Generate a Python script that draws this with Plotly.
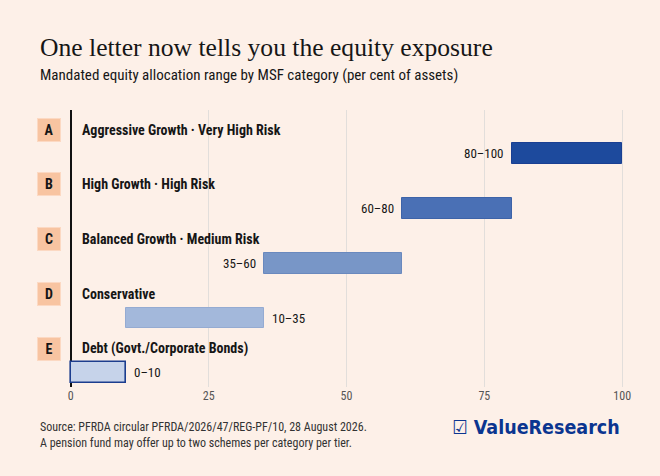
import plotly.graph_objects as go

# data
letters = ['A', 'B', 'C', 'D', 'E']
categories = ['Aggressive Growth · Very High Risk', 'High Growth · High Risk',
              'Balanced Growth · Medium Risk', 'Conservative', 'Debt (Govt./Corporate Bonds)']
equity_min = [80, 60, 35, 10, 0]
equity_max = [100, 80, 60, 35, 10]
tick_vals = [0, 25, 50, 75, 100]
tick_text = ['0', '25', '50', '75', '100']

bar_colors = ['#1D4A9D', '#4A70B5', '#7896C7', '#A3B8DB', '#C6D3EA']
line_colors = ['#1A3F92', '#3D63A8', '#6A89BE', '#95ABD2', '#1C3D8E']
line_widths = [1, 1, 1, 1, 1.6]

W, H = 660, 476
L, R, T, B = 68, 35, 110, 89
PW, PH = W - L - R, H - T - B

def px_x(px):
  return (px - L) / PW

def px_y(py):
  return (H - B - py) / PH

BG = '#FDF0E8'
SANS = 'Liberation Sans Narrow, Roboto Condensed, Roboto, sans-serif'
SERIF = 'Liberation Serif, DejaVu Serif, serif'
INK = '#161616'

rows = [len(letters) - 1 - i for i in range(len(letters))]

fig = go.Figure()
fig.add_trace(go.Bar(
  y=rows, x=[hi - lo for lo, hi in zip(equity_min, equity_max)], base=equity_min,
  orientation='h', width=0.38,
  marker=dict(color=bar_colors, line=dict(color=line_colors, width=line_widths)),
  hoverinfo='skip', showlegend=False))

annotations = []
for i, r in enumerate(rows):
  lo, hi = equity_min[i], equity_max[i]
  if lo >= 30:
    annotations.append(dict(x=lo, y=r, xref='x', yref='y', text=f'{lo}–{hi}', showarrow=False,
                            xanchor='right', xshift=-6, font=dict(family=SANS, size=13, color=INK)))
  else:
    annotations.append(dict(x=hi, y=r, xref='x', yref='y', text=f'{lo}–{hi}', showarrow=False,
                            xanchor='left', xshift=6, font=dict(family=SANS, size=13, color=INK)))
  # category label
  annotations.append(dict(x=1.6, y=r + 0.44, xref='x', yref='y', text=f'<b>{categories[i]}</b>',
                          showarrow=False, xanchor='left', yanchor='middle',
                          font=dict(family=SANS, size=14, color=INK)))
  # letter badge
  annotations.append(dict(x=px_x(49), y=r + 0.44, xref='paper', yref='y', text=f'<b>{letters[i]}</b>',
                          showarrow=False, xanchor='center', yanchor='middle',
                          bgcolor='#F8C4A1', bordercolor='#FCD9C3', borderwidth=1, borderpad=1,
                          width=20, height=20, font=dict(family=SANS, size=14, color=INK)))

annotations.append(dict(x=px_x(38), y=px_y(47), xref='paper', yref='paper', xanchor='left', yanchor='middle',
                        text='One letter now tells you the equity exposure', showarrow=False,
                        font=dict(family=SERIF, size=25.6, color=INK)))
annotations.append(dict(x=px_x(38), y=px_y(75), xref='paper', yref='paper', xanchor='left', yanchor='middle',
                        text='Mandated equity allocation range by MSF category (per cent of assets)', showarrow=False,
                        font=dict(family=SANS, size=15, color=INK)))
annotations.append(dict(x=px_x(38), y=px_y(435), xref='paper', yref='paper', xanchor='left', yanchor='middle',
                        align='left', showarrow=False,
                        text='Source: PFRDA circular PFRDA/2026/47/REG-PF/10, 28 August 2026.<br>'
                             'A pension fund may offer up to two schemes per category per tier.',
                        font=dict(family=SANS, size=12, color='#333333')))
annotations.append(dict(x=px_x(622), y=px_y(428), xref='paper', yref='paper', xanchor='right', yanchor='middle',
                        text='<b>☑ ValueResearch</b>', showarrow=False,
                        font=dict(family='DejaVu Sans Condensed, DejaVu Sans, sans-serif', size=19.5, color='#0B3590')))

fig.update_layout(
  width=W, height=H, autosize=False,
  margin=dict(l=L, r=R, t=T, b=B),
  paper_bgcolor=BG, plot_bgcolor=BG,
  annotations=annotations,
  xaxis=dict(range=[-0.5, 100.5], tickvals=tick_vals, ticktext=tick_text, showgrid=True,
             gridcolor='#E2DEDB', gridwidth=1, zeroline=True, zerolinecolor='#111111', zerolinewidth=1.5,
             showline=False, ticks='', tickfont=dict(family=SANS, size=12, color='#555555'), fixedrange=True),
  yaxis=dict(range=[-0.26, 4.8], showgrid=False, zeroline=False, showticklabels=False, fixedrange=True),
  bargap=0,
)

# drop the default body margin so the figure fills the window
fig.write_html('out.html', config={'displayModeBar': False},
               post_script="document.body.style.margin='0px';document.body.style.background='%s';" % BG)
